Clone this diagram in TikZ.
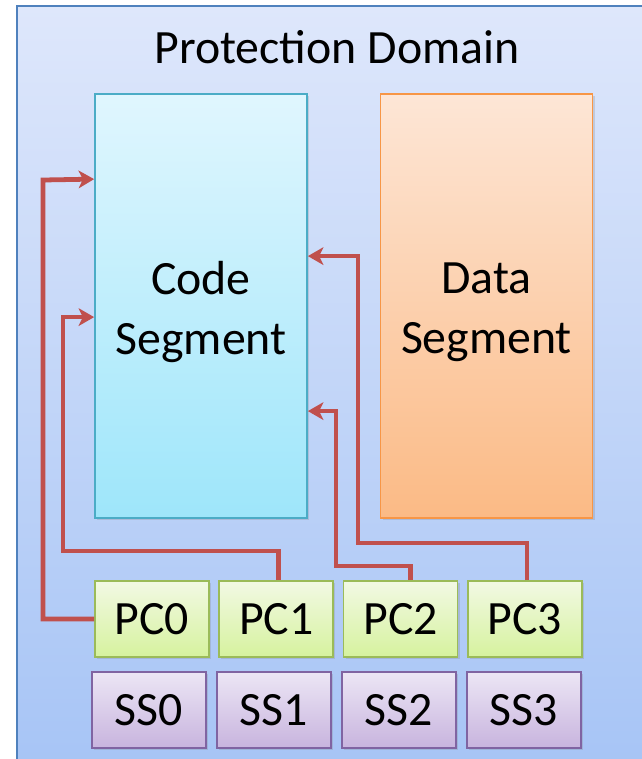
\documentclass[tikz,border=0pt]{standalone}
\usepackage{fontspec}
\setmainfont{Carlito}
\usetikzlibrary{arrows.meta,shadows,calc}
\definecolor{domtop}{RGB}{222,231,251}
\definecolor{dombot}{RGB}{163,194,245}
\definecolor{domline}{RGB}{79,129,189}
\definecolor{codetop}{RGB}{224,246,254}
\definecolor{codebot}{RGB}{158,230,250}
\definecolor{codeline}{RGB}{75,172,198}
\definecolor{datatop}{RGB}{253,230,214}
\definecolor{databot}{RGB}{251,186,133}
\definecolor{dataline}{RGB}{247,150,70}
\definecolor{pctop}{RGB}{242,249,228}
\definecolor{pcbot}{RGB}{214,242,158}
\definecolor{pcline}{RGB}{155,187,89}
\definecolor{sstop}{RGB}{236,230,245}
\definecolor{ssbot}{RGB}{200,180,222}
\definecolor{ssline}{RGB}{128,100,162}
\definecolor{linkred}{RGB}{192,80,77}
\tikzset{
    BigFont/.style={font=\fontsize{34}{43}\selectfont},
    Shade/.style={drop shadow={shadow xshift=1.5pt,shadow yshift=-1.5pt,opacity=0.25}},
    SegBox/.style={Shade,draw,line width=1.2pt,
        minimum width=5.3cm,minimum height=10.6cm},
    SegText/.style={BigFont,align=center,yshift=-0.15cm},
    RegBox/.style={BigFont,Shade,draw,line width=1.2pt,
        minimum width=2.85cm,minimum height=1.9cm},
    Link/.style={-{Stealth[length=11pt,width=12.5pt,inset=3pt]},linkred,
        line width=3.4pt}    }

\begin{document}
\begin{tikzpicture}[x=0.025cm,y=-0.025cm]
    \useasboundingbox (0,0) rectangle (642,759);
    \clip (0,0) rectangle (642,759);

    % protection domain
    \fill[white] (0,0) rectangle (642,759);
    \draw[domline,line width=1.4pt,top color=domtop,bottom color=dombot]
        (17,6) rectangle (700,820);
    \node[BigFont] (title) at (337,47) {Protection Domain};

    % segments
    \node[SegBox,draw=codeline,top color=codetop,bottom color=codebot,
        label={[SegText]center:Code\\Segment}] (code) at (201,306) {};
    \node[SegBox,draw=dataline,top color=datatop,bottom color=databot,
        label={[SegText]center:Data\\Segment}] (data) at (486.5,306) {};

    % per thread registers
    \foreach \i in {0,...,3}
    {
    \node[RegBox,draw=pcline,top color=pctop,bottom color=pcbot]
        (pc\i) at (152+124.3*\i,619) {PC\i};
    \node[RegBox,draw=ssline,top color=sstop,bottom color=ssbot]
        (ss\i) at (149+125*\i,710) {SS\i};
    }

    % entry points into the code
    \coordinate (in0) at ($(code.north west)+(0,86)$);
    \coordinate (in1) at ($(code.north west)+(0,224)$);
    \coordinate (in2) at ($(code.north east)+(0,318)$);
    \coordinate (in3) at ($(code.north east)+(0,163)$);

    \draw[Link] (pc0.west) -| (43,180) -- (in0);
    \draw[Link] ($(pc1.north)+(2,0)$) |- (63,551) |- (in1);
    \draw[Link] ($(pc2.north)+(10,0)$) |- (336,566) |- (in2);
    \draw[Link] ($(pc3.north)+(2,0)$) |- (358,543) |- (in3);
\end{tikzpicture}
\end{document}
